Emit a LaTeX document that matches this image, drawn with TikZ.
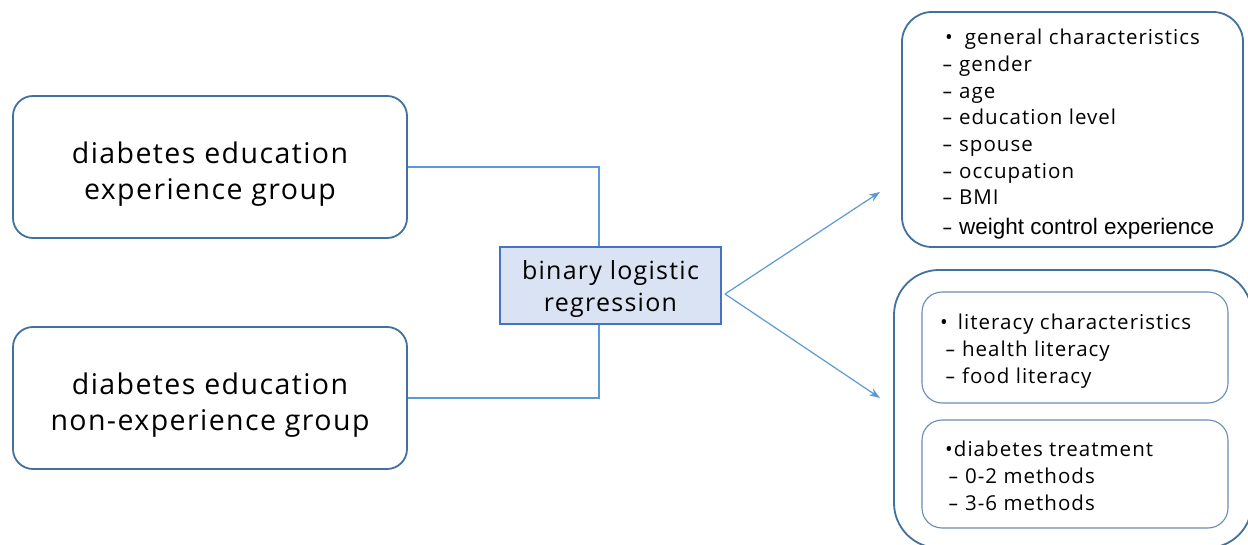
\documentclass[tikz,border=0pt]{standalone}
\usepackage{fontspec}
\setmainfont{Open Sans}[LetterSpace=5]
\newfontfamily\arialfont{Liberation Sans}
\usetikzlibrary{arrows.meta}

\definecolor{boxline}{HTML}{41719C}
\definecolor{innerline}{HTML}{6A8CB4}
\definecolor{linkline}{HTML}{5B9BD5}
\definecolor{regfill}{HTML}{DAE3F3}
\definecolor{regline}{HTML}{4472C4}

% a slightly wider hyphen for the list items
\newcommand\itemdash{\scalebox{1.6}[1]{-}}

\tikzset{
  groupbox/.style={draw=boxline, line width=1.8pt, rounded corners=20pt,
    minimum width=394pt, minimum height=142pt, inner sep=0pt},
  grouptext/.style={align=center, inner sep=0pt,
    font=\fontsize{28.5}{36}\selectfont},
  regbox/.style={draw=regline, fill=regfill, line width=1.2pt,
    minimum width=221pt, minimum height=77pt, inner sep=0pt},
  regtext/.style={align=center, inner sep=0pt,
    font=\fontsize{25}{32}\selectfont},
  outerbox/.style={draw=boxline, line width=1.8pt, inner sep=0pt},
  innerbox/.style={draw=innerline, line width=1.1pt, rounded corners=20pt,
    minimum width=306pt, inner sep=0pt},
  listtext/.style={align=left, inner sep=0pt,
    font=\fontsize{20.5}{26.7}\selectfont},
  link/.style={draw=linkline, line width=1.2pt},
  arrowlink/.style={link, -{Stealth[length=11pt,width=8pt]}},
}

\begin{document}
\begin{tikzpicture}[x=1pt, y=-1pt]
  \useasboundingbox (0,0) rectangle (1248,545);
  \clip (0,0) rectangle (1248,545);
  \fill[white] (0,0) rectangle (1248,545);

  % the two study groups
  \node[groupbox] (exp) at (210,167) {};
  \node[grouptext] (exptext) at (210,174) {diabetes education\\experience group};
  \node[groupbox] (nonexp) at (210,398) {};
  \node[grouptext] (nonexptext) at (210,405) {diabetes education\\non-experience group};

  % analysis method
  \node[regbox] (reg) at (610.5,285.5) {};
  \node[regtext] (regtext) at (610.5,289.5) {binary logistic\\regression};

  % group lines into the analysis box
  \coordinate (topin) at ([xshift=-11.5pt]reg.north);
  \coordinate (botin) at ([xshift=-11.5pt]reg.south);
  \draw[link] (exp.east) -| (topin);
  \draw[link] (nonexp.east) -| (botin);

  % variable boxes on the right
  \node[outerbox, rounded corners=30pt, minimum width=341pt, minimum height=235pt]
    (general) at (1072.5,129.5) {};
  \node[listtext, anchor=north west] (genlist) at (942,29)
    {\hspace{3pt}•\hspace{12pt}general characteristics\\
     \itemdash\ gender\\
     \itemdash\ age\\
     \itemdash\ education level\\
     \itemdash\ spouse\\
     \itemdash\ occupation\\
     \itemdash\ BMI\\[2.5pt]
     \itemdash\ {\arialfont\fontsize{22.5}{26.7}\selectfont weight control experience}};

  \node[outerbox, rounded corners=45pt, minimum width=358pt, minimum height=278pt]
    (other) at (1073,409) {};
  \node[innerbox, minimum height=111pt] (lit) at (1075,347.5) {};
  \node[innerbox, minimum height=108pt] (treat) at (1075,474) {};
  \node[listtext, anchor=north west] (litlist) at (940,314)
    {•\hspace{10pt}literacy characteristics\\
     \hspace{5pt}\itemdash\ health literacy\\
     \hspace{5pt}\itemdash\ food literacy};
  \node[listtext, anchor=north west] (treatlist) at (945,441)
    {•diabetes treatment\\
     \hspace{3pt}\itemdash\ 0-2 methods\\
     \hspace{3pt}\itemdash\ 3-6 methods};

  % arrows from the analysis box to the variable groups
  \coordinate (split) at (725,294);
  \coordinate (gentip) at (880,192);
  \coordinate (othertip) at (880,398);
  \draw[arrowlink] (split) -- (gentip);
  \draw[arrowlink] (split) -- (othertip);
\end{tikzpicture}
\end{document}
